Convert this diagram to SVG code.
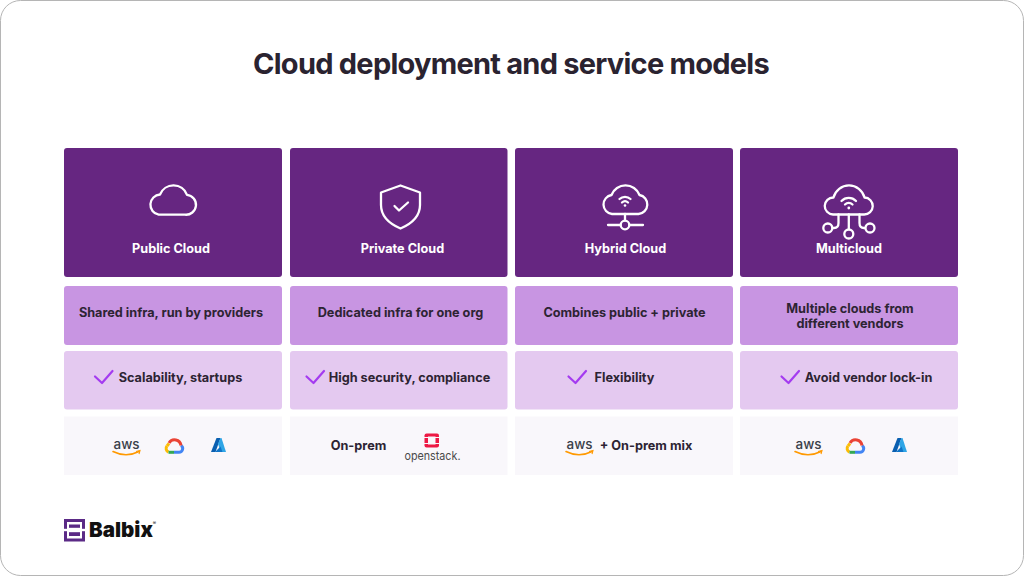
<svg xmlns="http://www.w3.org/2000/svg" xmlns:xlink="http://www.w3.org/1999/xlink" width="1024" height="576" viewBox="0 0 1024 576">
<style>
text{font-family:Inter,"Liberation Sans",sans-serif;font-weight:700;text-anchor:middle}
.t{font-size:29px;fill:#2a2330;letter-spacing:-.75px}
.h{font-size:12.700px;fill:#fff}
.b{font-size:12.700px;fill:#2d2433}
.a{fill:#662681}.c{fill:#c895e2}.d{fill:#e4c9f0}.e{fill:#f9f7fb}
.i{fill:none;stroke:#fff;stroke-width:2.300;stroke-linecap:round;stroke-linejoin:round}
.k{fill:none;stroke:#a43bf0;stroke-width:2.200;stroke-linecap:round;stroke-linejoin:round}
.aws{font-size:13.500px;font-weight:500;fill:#3a3f4a}
</style>
<defs>
<g id="aws"><text class="aws" x="13.500" y="8" textLength="26" lengthAdjust="spacingAndGlyphs">aws</text><path d="M0 10.500Q13 17 26 10.500" fill="none" stroke="#f90" stroke-width="1.600" stroke-linecap="round"/><path d="M23 10.500L27 9.500L26 13" fill="none" stroke="#f90" stroke-width="1.100"/></g>
<g id="gcp" fill="none" stroke-width="3"><path d="M3.500 14A3.800 3.800 0 0 1 2 8" stroke="#fbbc04"/><path d="M3.500 14.300H9" stroke="#34a853"/><path d="M9 14.300H14A3.700 3.700 0 0 0 16 7.500" stroke="#4285f4"/><path d="M16 7.500A6.500 6.500 0 0 0 4 5" stroke="#ea4335"/><path d="M4 5.500L2 8" stroke="#fbbc04"/></g>
<g id="az"><path d="M5.500 0H9.500L4.500 14H0Z" fill="#0a5fb0"/><path d="M9.500 0H10.500L15 14H10L7 6Z" fill="#2fa5e6"/><path d="M4 14L9.500 8.500L11.500 14Z" fill="#0f74c8"/></g>
</defs>
<rect x=".5" y=".5" width="1023" height="575" rx="20" fill="#fff" stroke="#b5b5b5"/>
<text class="t" x="511" y="73.500">Cloud deployment and service models</text>

<g id="public-cloud">
<rect class="a" x="64" y="148" width="218" height="129" rx="3"/>
<path class="i" d="M158.700 214.700H185A10 10 0 0 0 187 194.800A14.500 14.500 0 0 0 160 194.500A10.200 10.200 0 0 0 158.700 214.700Z"/>
<text class="h" x="171" y="252.500">Public Cloud</text>
</g>
<g id="private-cloud">
<rect class="a" x="290" y="148" width="217.500" height="129" rx="3"/>
<path class="i" d="M400.500 185.500L381 192.500V205C381 217 390 224 400.500 228.500C411 224 420 217 420 205V192.500Z"/>
<path class="i" d="M394.500 206L399 210.500L408 202.500"/>
<text class="h" x="402.500" y="252.500">Private Cloud</text>
</g>
<g id="hybrid-cloud">
<rect class="a" x="515" y="148" width="218" height="129" rx="3"/>
<path class="i" d="M612 214H638.500A9.600 9.600 0 0 0 639.500 195A15 15 0 0 0 611.500 195A9.600 9.600 0 0 0 612 214Z"/>
<path class="i" d="M619.500 199A8 8 0 0 1 630.500 199M622 202.500A4.500 4.500 0 0 1 628 202.500"/><circle cx="625" cy="205.500" r="1.300" fill="#fff"/>
<path class="i" d="M625 214V220.500M608 225H620.500M629.500 225H643"/><circle class="i" cx="625" cy="225" r="4.300"/>
<text class="h" x="625.500" y="252.500">Hybrid Cloud</text>
</g>
<g id="multicloud">
<rect class="a" x="740" y="148" width="218" height="129" rx="3"/>
<path class="i" d="M833 214.500H864A8.500 8.500 0 0 0 864.500 197.500A16 16 0 0 0 833.500 197.500A8.500 8.500 0 0 0 833 214.500Z"/>
<path class="i" d="M841.500 201A10 10 0 0 1 856 201M845 204.500A5.500 5.500 0 0 1 852.500 204.500"/><circle cx="848.800" cy="208" r="1.400" fill="#fff"/>
<path class="i" d="M848.800 214.500V229M838.500 214.500V223Q838.500 228 834 228H832.500M859.500 214.500V223Q859.500 228 864 228H865"/>
<circle class="i" cx="827.800" cy="228" r="4.500"/><circle class="i" cx="848.800" cy="234" r="4.500"/><circle class="i" cx="870" cy="228" r="4.500"/>
<text class="h" x="849" y="252.500">Multicloud</text>
</g>

<g id="desc-public"><rect class="c" x="64" y="286" width="218" height="59" rx="3"/><text class="b" x="171" y="316.500">Shared infra, run by providers</text></g>
<g id="desc-private"><rect class="c" x="290" y="286" width="217.500" height="59" rx="3"/><text class="b" x="400.500" y="316.500">Dedicated infra for one org</text></g>
<g id="desc-hybrid"><rect class="c" x="515" y="286" width="218" height="59" rx="3"/><text class="b" x="624.500" y="316.500">Combines public + private</text></g>
<g id="desc-multi"><rect class="c" x="740" y="286" width="218" height="59" rx="3"/><text class="b" x="850" y="312.500">Multiple clouds from</text><text class="b" x="850" y="327.500">different vendors</text></g>

<g id="use-public"><rect class="d" x="64" y="351" width="218" height="58.500" rx="3"/><path class="k" d="M95 376.500L102 383L112.500 371"/><text class="b" x="180.500" y="381.500">Scalability, startups</text></g>
<g id="use-private"><rect class="d" x="290" y="351" width="217.500" height="58.500" rx="3"/><path class="k" d="M306.500 376.500L313.500 383L324 371"/><text class="b" x="409.500" y="381.500">High security, compliance</text></g>
<g id="use-hybrid"><rect class="d" x="515" y="351" width="218" height="58.500" rx="3"/><path class="k" d="M568.500 376.500L575.500 383L586 371"/><text class="b" x="624.500" y="381.500">Flexibility</text></g>
<g id="use-multi"><rect class="d" x="740" y="351" width="218" height="58.500" rx="3"/><path class="k" d="M781.500 376.500L788.500 383L799 371"/><text class="b" x="868.500" y="381.500">Avoid vendor lock-in</text></g>

<g id="tools-public"><rect class="e" x="64" y="416.500" width="218" height="58.500"/><use xlink:href="#aws" x="113" y="441"/><use xlink:href="#gcp" x="165" y="438"/><use xlink:href="#az" x="211" y="438"/></g>
<g id="tools-private"><rect class="e" x="290" y="416.500" width="217.500" height="58.500"/><text class="b" x="358.500" y="449.500">On-prem</text>
<rect x="424.500" y="433.500" width="14.500" height="14" rx="2" fill="#ed1944"/><rect x="428" y="436.500" width="7.500" height="8" fill="#f9f7fb"/><path d="M424 437.500h4M435 437.500h4M424 443.500h4M435 443.500h4" stroke="#f9f7fb" stroke-width="1"/>
<text x="432.500" y="459.500" font-size="12" style="font-weight:400;fill:#4a4a4a" textLength="56" lengthAdjust="spacingAndGlyphs">openstack.</text></g>
<g id="tools-hybrid"><rect class="e" x="515" y="416.500" width="218" height="58.500"/><use xlink:href="#aws" x="566" y="441"/><text class="b" x="646" y="449.500">+ On-prem mix</text></g>
<g id="tools-multi"><rect class="e" x="740" y="416.500" width="218" height="58.500"/><use xlink:href="#aws" x="795" y="441"/><use xlink:href="#gcp" x="846" y="438"/><use xlink:href="#az" x="892" y="438"/></g>

<g id="logo">
<rect x="65.500" y="520.500" width="18" height="19.500" fill="none" stroke="#5b2a86" stroke-width="3"/>
<rect x="64" y="528.800" width="21" height="2.400" fill="#fff"/>
<rect x="69" y="524.500" width="11" height="3.300" fill="#5b2a86"/><rect x="69" y="532.200" width="11" height="3.800" fill="#5b2a86"/>
<text x="121" y="537" font-size="20.500" style="font-weight:900;fill:#111">Balbix</text>
<text x="154.500" y="525" font-size="5" style="font-weight:500;fill:#111">®</text>
</g>
</svg>
